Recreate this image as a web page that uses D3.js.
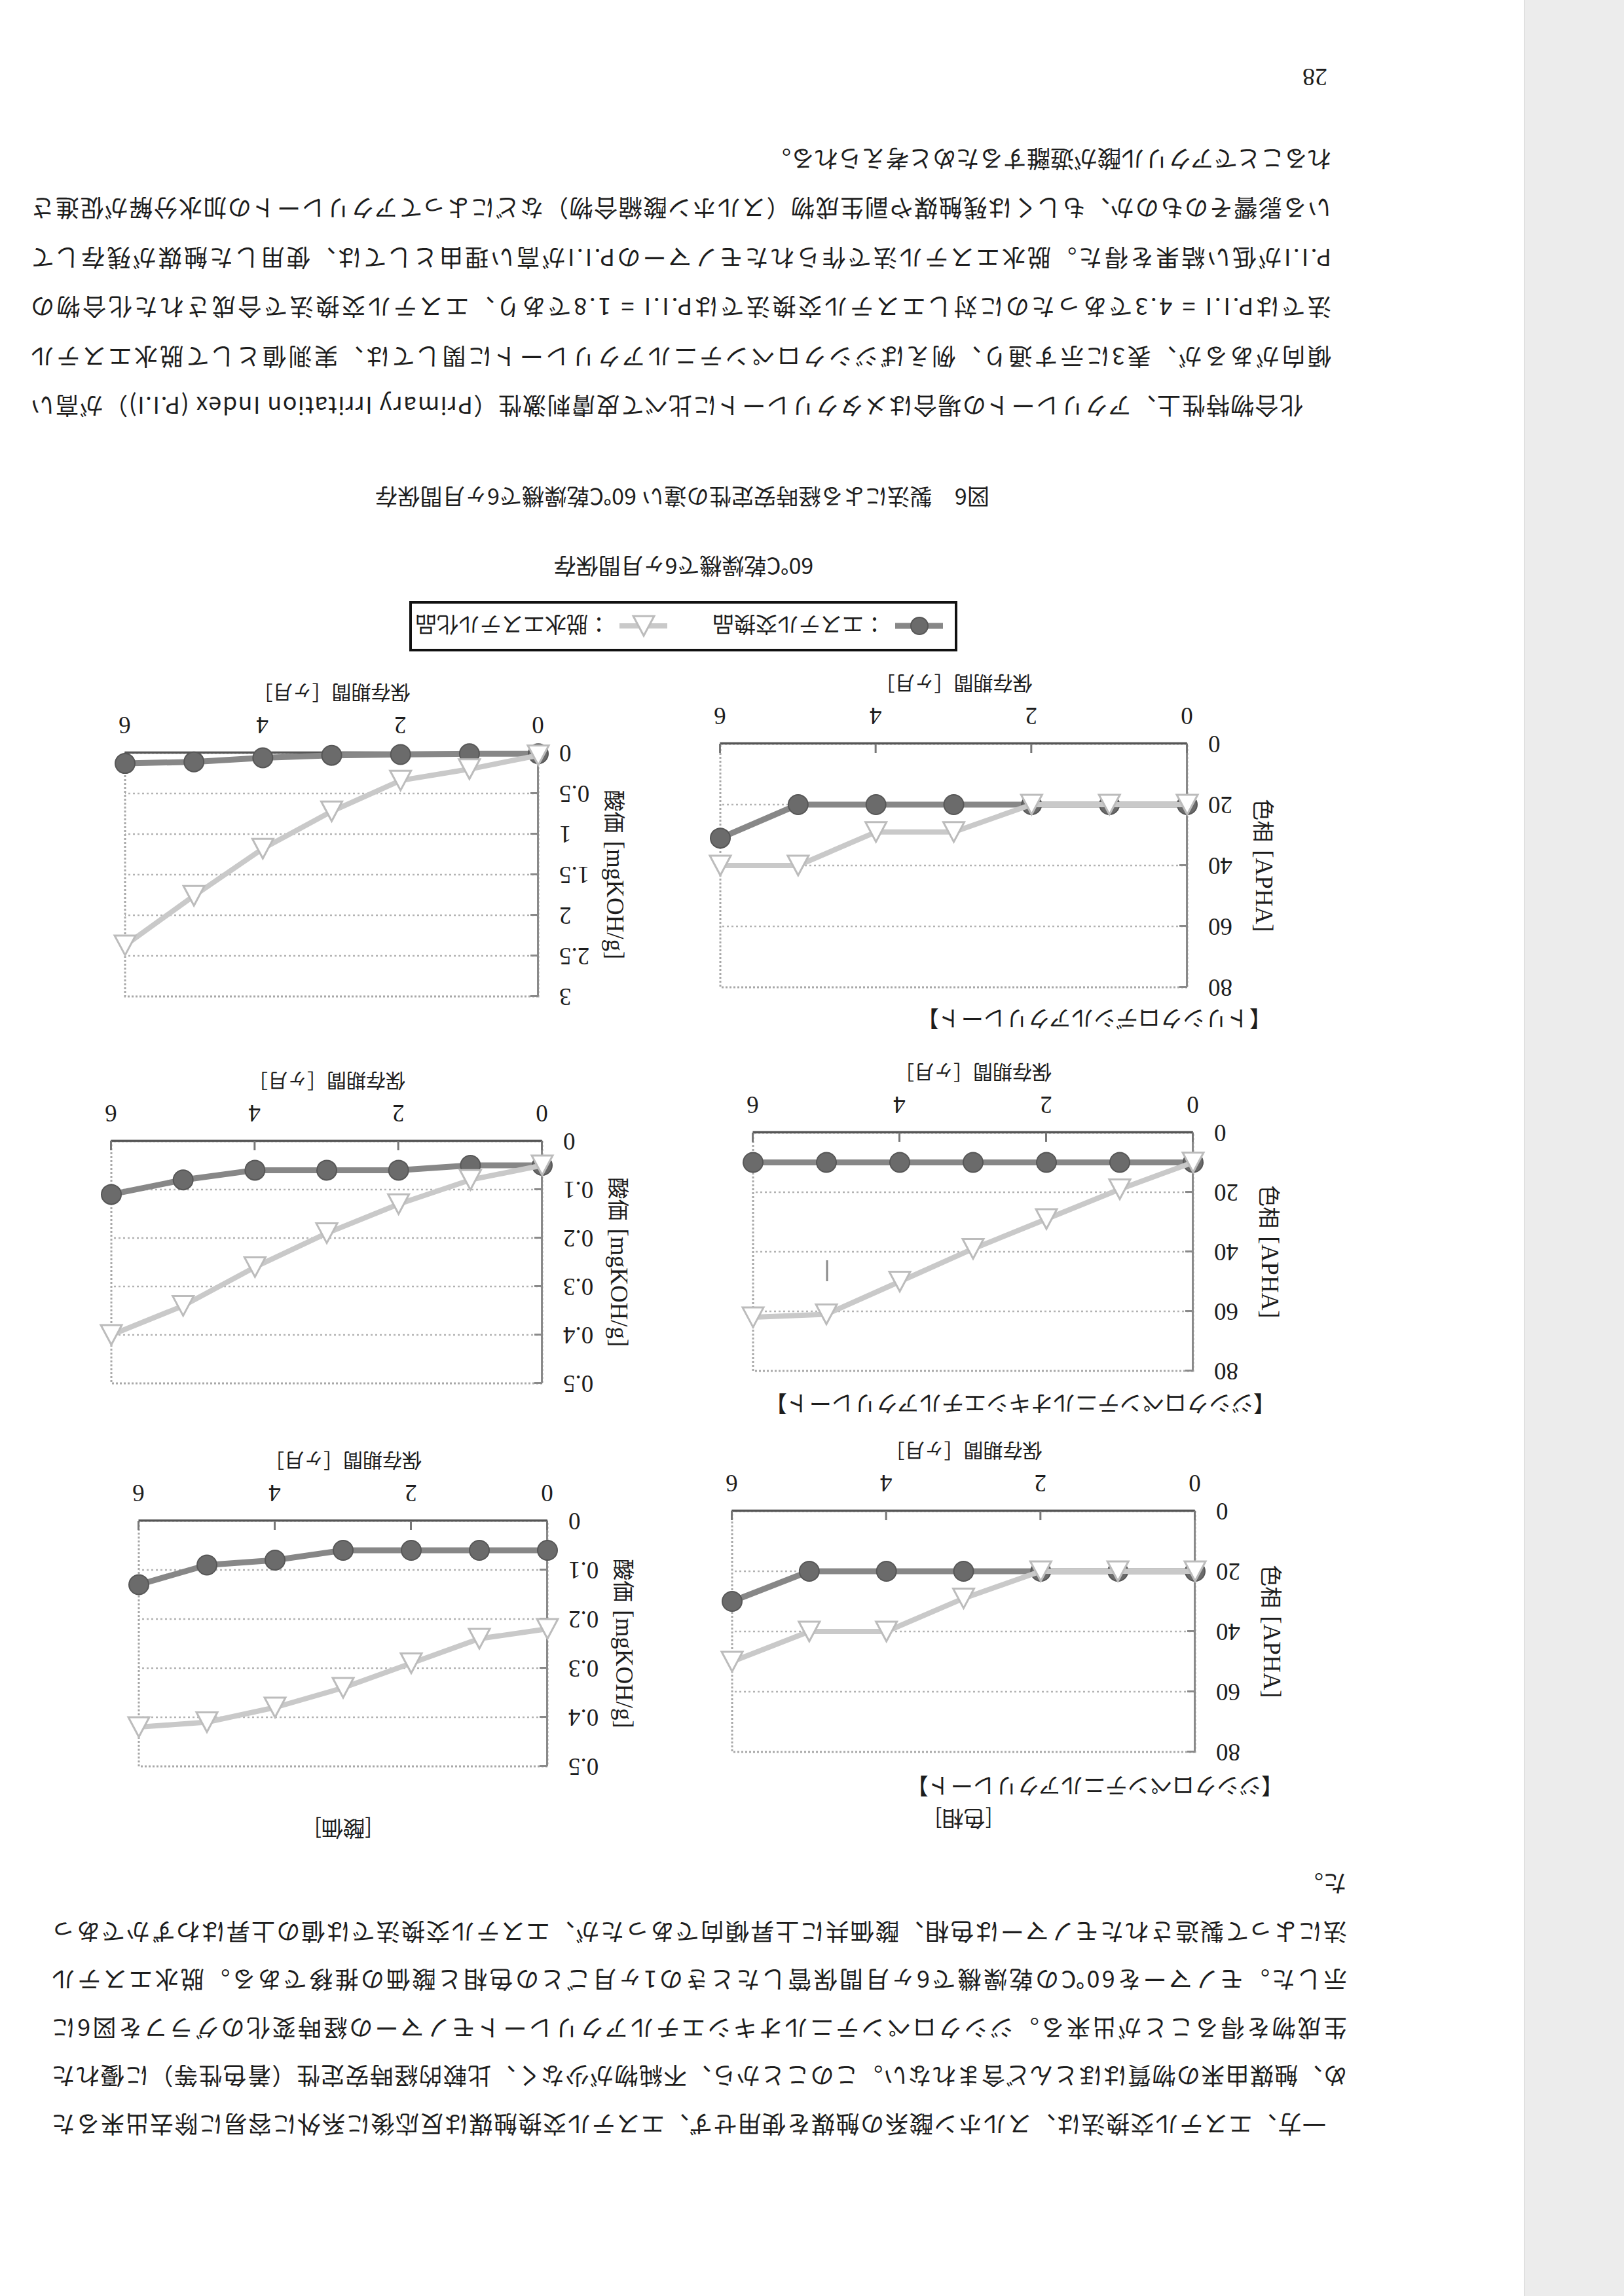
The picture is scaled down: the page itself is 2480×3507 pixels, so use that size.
<!DOCTYPE html>
<html>
<head>
<meta charset="utf-8">
<script src="https://cdn.jsdelivr.net/npm/d3@7"></script>
<style>
  body { margin: 0; background: #fff; }
</style>
</head>
<body>
<svg id="page"></svg>
<script>
// ---- data ----
const months = [0, 1, 2, 3, 4, 5, 6];
const monthTicks = [0, 2, 4, 6];
const compounds = [
  "【ジシクロペンテニルアクリレート】",
  "【ジシクロペンテニルオキシエチルアクリレート】",
  "【トリシクロデシルアクリレート】"
];
const seriesNames = ["：エステル交換品", "：脱水エステル化品"];

// color (APHA)
const colorEster = [
  [20, 20, 20, 20, 20, 20, 30],
  [10, 10, 10, 10, 10, 10, 10],
  [20, 20, 20, 20, 20, 20, 31]
];
const colorDehyd = [
  [20, 20, 20, 29, 40, 40, 50],
  [10, 19, 29, 39, 50, 61, 62],
  [20, 20, 20, 29, 29, 40, 40]
];
const colorTicks = [0, 20, 40, 60, 80];

// acid value (mgKOH/g)
const acidEster = [
  [0.06, 0.06, 0.06, 0.06, 0.08, 0.09, 0.13],
  [0.05, 0.05, 0.06, 0.06, 0.06, 0.08, 0.11],
  [0.01, 0.01, 0.02, 0.03, 0.06, 0.11, 0.13]
];
const acidDehyd = [
  [0.22, 0.24, 0.29, 0.34, 0.38, 0.41, 0.42],
  [0.05, 0.08, 0.13, 0.19, 0.26, 0.34, 0.40],
  [0.03, 0.20, 0.34, 0.72, 1.18, 1.76, 2.37]
];
const acidTicks = [
  [0, 0.1, 0.2, 0.3, 0.4, 0.5],
  [0, 0.1, 0.2, 0.3, 0.4, 0.5],
  [0, 0.5, 1, 1.5, 2, 2.5, 3]
];

const textTop = [
  "一方、エステル交換法は、スルホン酸系の触媒を使用せず、エステル交換触媒は反応後に系外に容易に除去出来るた",
  "め、触媒由来の物質はほとんど含まれない。このことから、不純物が少なく、比較的経時安定性（着色性等）に優れた",
  "生成物を得ることが出来る。ジシクロペンテニルオキシエチルアクリレートモノマーの経時変化のグラフを図6に",
  "示した。モノマーを60℃の乾燥機で6ヶ月間保管したときの1ヶ月ごとの色相と酸価の推移である。脱水エステル",
  "法によって製造されたモノマーは色相、酸価共に上昇傾向であったが、エステル交換法では値の上昇はわずかであっ",
  "た。"
];
const textBottom = [
  "化合物特性上、アクリレートの場合はメタクリレートに比べて皮膚刺激性（Primary Irritation Index (P.I.I)）が高い",
  "傾向があるが、表3に示す通り、例えばジシクロペンテニルアクリレートに関しては、実測値として脱水エステル",
  "法ではP.I.I = 4.3であったのに対しエステル交換法ではP.I.I = 1.8であり、エステル交換法で合成された化合物の",
  "P.I.Iが低い結果を得た。脱水エステル法で作られたモノマーのP.I.Iが高い理由としては、使用した触媒が残存して",
  "いる影響そのものか、もしくは残触媒や副生成物（スルホン酸縮合物）などによってアクリレートの加水分解が促進さ",
  "れることでアクリル酸が遊離するためと考えられる。"
];
const caption = "図6　製法による経時安定性の違い 60℃乾燥機で6ヶ月間保存";
const subtitle = "60℃乾燥機で6ヶ月間保存";
const pageNo = "28";

// ---- layout (upright page coords, the scan is upside down) ----
const W = 2480, H = 3507;
const colorBoxes = [[655, 831, 1362, 1199], [658, 1413, 1330, 1777], [667, 1999, 1380, 2371]];
const acidBoxes = [[1644, 809, 2268, 1184], [1652, 1394, 2310, 1764], [1658, 1985, 2289, 2357]];
const labelPos = [[520, 778], [532, 1362], [538, 1950]];

const JP = "'Noto Sans CJK JP', 'Noto Sans', sans-serif";
const SERIF = "'Liberation Serif', 'DejaVu Serif', serif";
const INK = "#1d1d1d";

const svg = d3.select("#page").attr("width", W).attr("height", H).attr("viewBox", `0 0 ${W} ${H}`);
svg.append("rect").attr("width", W).attr("height", H).attr("fill", "#fff");
const page = svg.append("g").attr("transform", `rotate(180 ${W / 2} ${H / 2})`);

// scanner edge shadow
page.append("rect").attr("x", 0).attr("y", 0).attr("width", 152).attr("height", H).attr("fill", "#ececec");
page.append("line").attr("x1", 152).attr("x2", 152).attr("y1", 0).attr("y2", H)
  .attr("stroke", "#e0e0e0").attr("stroke-width", 2);

function tri(cx, cy) {
  return `M${cx},${cy - 15}L${cx + 16},${cy + 15}L${cx - 16},${cy + 15}Z`;
}

function panel(box, ticks, ester, dehyd, yTitle) {
  const [l, t, r, b] = box;
  const x = d3.scaleLinear().domain([0, 6]).range([l, r]);
  const y = d3.scaleLinear().domain([0, ticks[ticks.length - 1]]).range([b, t]);
  const g = page.append("g");

  // grid
  g.selectAll("line.grid").data(ticks.slice(1, -1)).join("line").attr("class", "grid")
    .attr("x1", l).attr("x2", r).attr("y1", d => y(d)).attr("y2", d => y(d))
    .attr("stroke", "#b3b3b3").attr("stroke-width", 2.5).attr("stroke-dasharray", "3 4");

  // plot frame
  g.append("rect").attr("x", l).attr("y", t).attr("width", r - l).attr("height", b - t)
    .attr("fill", "none").attr("stroke", "#a8a8a8").attr("stroke-width", 3).attr("stroke-dasharray", "3 3");

  // y axis
  const ya = g.append("g").attr("transform", `translate(${l},0)`)
    .call(d3.axisLeft(y).tickValues(ticks).tickFormat(d => String(d))
      .tickSize(-12).tickSizeOuter(0).tickPadding(32));
  ya.select(".domain").attr("stroke", "#8a8a8a").attr("stroke-width", 3);
  ya.selectAll(".tick line").attr("stroke", "#8a8a8a").attr("stroke-width", 3);
  ya.selectAll(".tick text").attr("font-family", SERIF).attr("font-size", 37).attr("fill", INK);

  // x axis
  const xa = g.append("g").attr("transform", `translate(0,${b})`)
    .call(d3.axisBottom(x).tickValues(monthTicks).tickFormat(d3.format("d"))
      .tickSize(-14).tickSizeOuter(0).tickPadding(29));
  xa.select(".domain").attr("stroke", "#555").attr("stroke-width", 3.5);
  xa.selectAll(".tick line").attr("stroke", "#777").attr("stroke-width", 3);
  xa.selectAll(".tick text").attr("font-family", SERIF).attr("font-size", 37).attr("fill", INK);

  // axis titles
  g.append("text").attr("x", (l + r) / 2).attr("y", b + 90)
    .attr("text-anchor", "middle").attr("dominant-baseline", "central")
    .attr("font-family", JP).attr("font-size", 30).attr("fill", INK)
    .text("保存期間［ヶ月］");
  const yt = g.append("text").attr("transform", `translate(${l - 118},${(t + b) / 2}) rotate(-90)`)
    .attr("text-anchor", "middle").attr("dominant-baseline", "central")
    .attr("font-size", 37).attr("fill", INK);
  yt.append("tspan").attr("font-family", JP).attr("font-size", 33).text(yTitle[0]);
  yt.append("tspan").attr("font-family", SERIF).attr("dx", 12).text(yTitle[1]);

  // series 1: ester exchange
  const pe = months.map((m, i) => [x(m), y(ester[i])]);
  g.append("path").attr("d", d3.line()(pe)).attr("fill", "none")
    .attr("stroke", "#878787").attr("stroke-width", 9).attr("stroke-linejoin", "round");
  g.selectAll("circle.es").data(pe).join("circle").attr("class", "es")
    .attr("cx", d => d[0]).attr("cy", d => d[1]).attr("r", 15)
    .attr("fill", "#6b6b6b").attr("stroke", "#575757").attr("stroke-width", 2);

  // series 2: dehydration esterification
  const pd = months.map((m, i) => [x(m), y(dehyd[i])]);
  g.append("path").attr("d", d3.line()(pd)).attr("fill", "none")
    .attr("stroke", "#c9c9c9").attr("stroke-width", 8).attr("stroke-linejoin", "round");
  g.selectAll("path.dh").data(pd).join("path").attr("class", "dh")
    .attr("d", d => tri(d[0], d[1]))
    .attr("fill", "#fff").attr("stroke", "#bcbcbc").attr("stroke-width", 3);
}

compounds.forEach((name, i) => {
  panel(colorBoxes[i], colorTicks, colorEster[i], colorDehyd[i], ["色相", "[APHA]"]);
  panel(acidBoxes[i], acidTicks[i], acidEster[i], acidDehyd[i], ["酸価", "[mgKOH/g]"]);
  page.append("text").attr("x", labelPos[i][0]).attr("y", labelPos[i][1])
    .attr("dominant-baseline", "central").attr("font-family", JP).attr("font-size", 34)
    .attr("fill", INK).text(name);
});

// column headers
page.append("text").attr("x", (colorBoxes[0][0] + colorBoxes[0][2]) / 2).attr("y", 727)
  .attr("text-anchor", "middle").attr("dominant-baseline", "central")
  .attr("font-family", JP).attr("font-size", 33).attr("fill", INK).text("[色相]");
page.append("text").attr("x", (acidBoxes[0][0] + acidBoxes[0][2]) / 2).attr("y", 712)
  .attr("text-anchor", "middle").attr("dominant-baseline", "central")
  .attr("font-family", JP).attr("font-size", 33).attr("fill", INK).text("[酸価]");

// legend
const lg = page.append("g");
lg.append("rect").attr("x", 1020).attr("y", 2514).attr("width", 833).attr("height", 73)
  .attr("fill", "#fff").attr("stroke", "#111").attr("stroke-width", 4);
const legendX = [1040, 1461];
seriesNames.forEach((s, i) => {
  const x0 = legendX[i], cy = 2551;
  lg.append("line").attr("x1", x0).attr("x2", x0 + 73).attr("y1", cy).attr("y2", cy)
    .attr("stroke", i === 0 ? "#878787" : "#c9c9c9").attr("stroke-width", i === 0 ? 9 : 8);
  if (i === 0) {
    lg.append("circle").attr("cx", x0 + 36).attr("cy", cy).attr("r", 13)
      .attr("fill", "#6b6b6b").attr("stroke", "#575757").attr("stroke-width", 2);
  } else {
    lg.append("path").attr("d", tri(x0 + 36, cy)).attr("fill", "#fff")
      .attr("stroke", "#bcbcbc").attr("stroke-width", 3);
  }
  lg.append("text").attr("x", x0 + 88).attr("y", cy).attr("dominant-baseline", "central")
    .attr("font-family", JP).attr("font-size", 33).attr("fill", INK).text(s);
});

// subtitle and caption
page.append("text").attr("x", 1436).attr("y", 2641).attr("text-anchor", "middle")
  .attr("dominant-baseline", "central").attr("font-family", JP).attr("font-size", 34)
  .attr("fill", INK).text(subtitle);
page.append("text").attr("x", 969).attr("y", 2747).attr("dominant-baseline", "central")
  .attr("font-family", JP).attr("font-size", 34).attr("fill", INK)
  .attr("textLength", 938).attr("lengthAdjust", "spacing").text(caption);

// body text
function paragraph(lines, x0, xIndent, x1, y0, dy) {
  page.append("g").selectAll("text").data(lines).join("text")
    .attr("x", (d, i) => i === 0 ? xIndent : x0)
    .attr("y", (d, i) => y0 + i * dy)
    .attr("dominant-baseline", "central")
    .attr("font-family", JP).attr("font-size", 36).attr("fill", INK)
    .attr("textLength", (d, i) => i < lines.length - 1 ? x1 - (i === 0 ? xIndent : x0) : null)
    .attr("lengthAdjust", "spacing")
    .text(d => d);
}
paragraph(textTop, 423, 455, 2401, 260, 73.6);
paragraph(textBottom, 447, 490, 2433, 2885, 75.4);

// page number
page.append("text").attr("x", 472).attr("y", 3389).attr("text-anchor", "middle")
  .attr("dominant-baseline", "central").attr("font-family", SERIF).attr("font-size", 38)
  .attr("fill", INK).text(pageNo);

// small scan mark
page.append("line").attr("x1", 1217).attr("x2", 1217).attr("y1", 1550).attr("y2", 1582)
  .attr("stroke", "#8a8a8a").attr("stroke-width", 3);
</script>
</body>
</html>
